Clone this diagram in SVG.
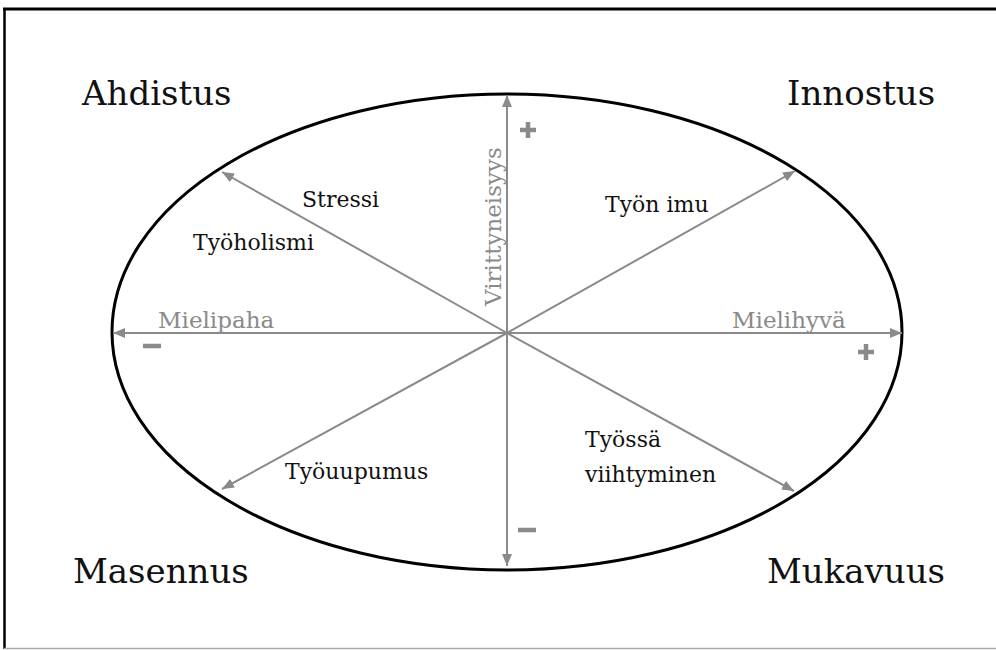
<svg xmlns="http://www.w3.org/2000/svg" width="996" height="650" viewBox="0 0 996 650">
<style>
.ax{stroke:#8a8a8a;stroke-width:2;fill:none;marker-end:url(#ah)}
.big{font-family:"DejaVu Serif","Liberation Serif",serif;font-size:34px;fill:#111}
.lab{font-family:"DejaVu Serif","Liberation Serif",serif;font-size:22px;fill:#111}
.gl{font-family:"DejaVu Serif","Liberation Serif",serif;font-size:23px;fill:#8a8a8a}
</style>
<defs>
<marker id="ah" viewBox="0 0 12 10" refX="12" refY="5" markerWidth="12" markerHeight="10" markerUnits="userSpaceOnUse" orient="auto">
<path d="M0,0 L12,5 L0,10 Z" fill="#8a8a8a"/>
</marker>
</defs>
<rect width="996" height="650" fill="#fff"/>
<g id="frame">
<line x1="3" y1="9" x2="996" y2="9" stroke="#000" stroke-width="3"/>
<line x1="4.5" y1="8" x2="4.5" y2="649" stroke="#000" stroke-width="2.5"/>
<line x1="4" y1="648.5" x2="996" y2="648.5" stroke="#aaa" stroke-width="1.5"/>
</g>
<g id="ellipse">
<ellipse cx="507" cy="332" rx="395" ry="238" fill="none" stroke="#000" stroke-width="3"/>
</g>
<g id="connectors">
<line class="ax" x1="507" y1="333" x2="507" y2="95"/>
<line class="ax" x1="507" y1="333" x2="507" y2="566"/>
<line class="ax" x1="507" y1="333" x2="113" y2="333"/>
<line class="ax" x1="507" y1="333" x2="902" y2="333"/>
<line class="ax" x1="507" y1="333" x2="222" y2="172"/>
<line class="ax" x1="507" y1="333" x2="795" y2="171"/>
<line class="ax" x1="507" y1="333" x2="222" y2="489"/>
<line class="ax" x1="507" y1="333" x2="794" y2="491"/>
</g>
<g id="ahdistus"><text class="big" x="82" y="105">Ahdistus</text></g>
<g id="innostus"><text class="big" x="787" y="105">Innostus</text></g>
<g id="masennus"><text class="big" x="73" y="583">Masennus</text></g>
<g id="mukavuus"><text class="big" x="767" y="583">Mukavuus</text></g>
<g id="stressi"><text class="lab" x="302" y="207">Stressi</text></g>
<g id="tyoholismi"><text class="lab" x="193" y="250" font-size="23">Työholismi</text></g>
<g id="tyonimu"><text class="lab" x="605" y="212">Työn imu</text></g>
<g id="tyouupumus"><text class="lab" x="285" y="479">Työuupumus</text></g>
<g id="viihtyminen"><text class="lab" x="585" y="447">Työssä</text><text class="lab" x="585" y="482">viihtyminen</text></g>
<g id="mielipaha"><text class="gl" x="158" y="328">Mielipaha</text></g>
<g id="mielihyva"><text class="gl" x="732" y="328">Mielihyvä</text></g>
<g id="virittyneisyys"><text class="gl" transform="translate(501,306) rotate(-90)" x="0" y="0">Virittyneisyys</text></g>
<g id="signs">
<path d="M520,130 h16 M528,122 v16" stroke="#8a8a8a" stroke-width="4.5"/>
<path d="M858,352 h16 M866,344 v16" stroke="#8a8a8a" stroke-width="4.5"/>
<path d="M143,346 h18" stroke="#8a8a8a" stroke-width="4.5"/>
<path d="M518,530 h18" stroke="#8a8a8a" stroke-width="4.5"/>
</g>
</svg>
